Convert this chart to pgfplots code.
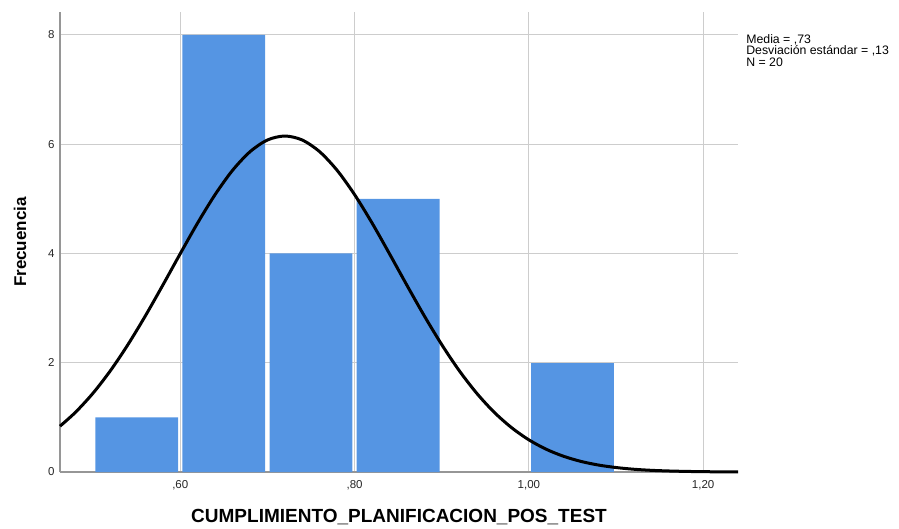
\documentclass[border=0pt]{standalone}
\usepackage{pgfplots}
\pgfplotsset{compat=1.18}
\usepackage{fontspec}
\setmainfont{Liberation Sans}
\definecolor{barblue}{RGB}{85,149,227}
\definecolor{axgray}{RGB}{150,150,150}
\definecolor{gridgray}{RGB}{205,205,205}
\begin{document}
\begin{tikzpicture}[x=1pt,y=1pt]
\path[use as bounding box] (0,0) rectangle (899,528);
\begin{axis}[
 at={(60pt,56pt)}, anchor=south west,
 scale only axis, width=678pt, height=460pt,
 xmin=0.462, xmax=1.24, ymin=0, ymax=8.42,
 axis x line=bottom, axis y line=left,
 axis line style={-, draw=axgray, line width=1.2pt},
 xtick={0.6,0.8,1.0,1.2}, xticklabels={{,60},{,80},{1,00},{1,20}},
 ytick={0,2,4,6,8},
 major tick length=0pt,
 grid=major, major grid style={gridgray, line width=1pt},
 tick label style={font=\fontsize{11.5}{13}\selectfont, text=black!85},
 xticklabel style={yshift=-5pt},
 yticklabel style={xshift=-2pt},
 /pgf/number format/assume math mode=true,
 xlabel={\textbf{CUMPLIMIENTO\_PLANIFICACION\_POS\_TEST}},
 ylabel={\textbf{Frecuencia}},
 every axis x label/.style={at={(axis description cs:0.5,-0.0978)}, anchor=center, font=\fontsize{19}{21}\selectfont},
 every axis y label/.style={at={(axis description cs:-0.059,0.5)}, anchor=center, rotate=90, font=\fontsize{17}{19}\selectfont},
 clip=false,
]
\addplot[ybar interval, fill=barblue, draw=none, bar interval width=0.95]
 coordinates {(0.5,1)(0.6,8)(0.7,4)(0.8,5)(0.9,0)};
\addplot[ybar interval, fill=barblue, draw=none, bar interval width=0.95]
 coordinates {(1.0,2)(1.1,0)};
\addplot[black, line width=3pt, smooth] coordinates {
(0.462,0.839)(0.48,1.097)(0.50,1.445)(0.52,1.858)(0.54,2.333)(0.56,2.859)(0.58,3.421)
(0.60,3.997)(0.62,4.560)(0.64,5.078)(0.66,5.522)(0.68,5.862)(0.70,6.077)(0.72,6.150)
(0.74,6.077)(0.76,5.862)(0.78,5.522)(0.80,5.078)(0.82,4.560)(0.84,3.997)(0.86,3.421)
(0.88,2.859)(0.90,2.333)(0.92,1.858)(0.94,1.445)(0.96,1.097)(0.98,0.814)(1.00,0.589)
(1.02,0.416)(1.04,0.287)(1.06,0.193)(1.08,0.127)(1.10,0.082)(1.12,0.051)(1.14,0.031)
(1.16,0.019)(1.18,0.011)(1.20,0.006)(1.22,0.003)(1.24,0.002)};
\node[anchor=north west, align=left, font=\fontsize{12.3}{11.8}\selectfont, inner sep=0pt]
 at (rel axis cs:1.012,0.952) {Media = ,73\\Desviación estándar = ,13\\N = 20};
\end{axis}
\end{tikzpicture}
\end{document}
